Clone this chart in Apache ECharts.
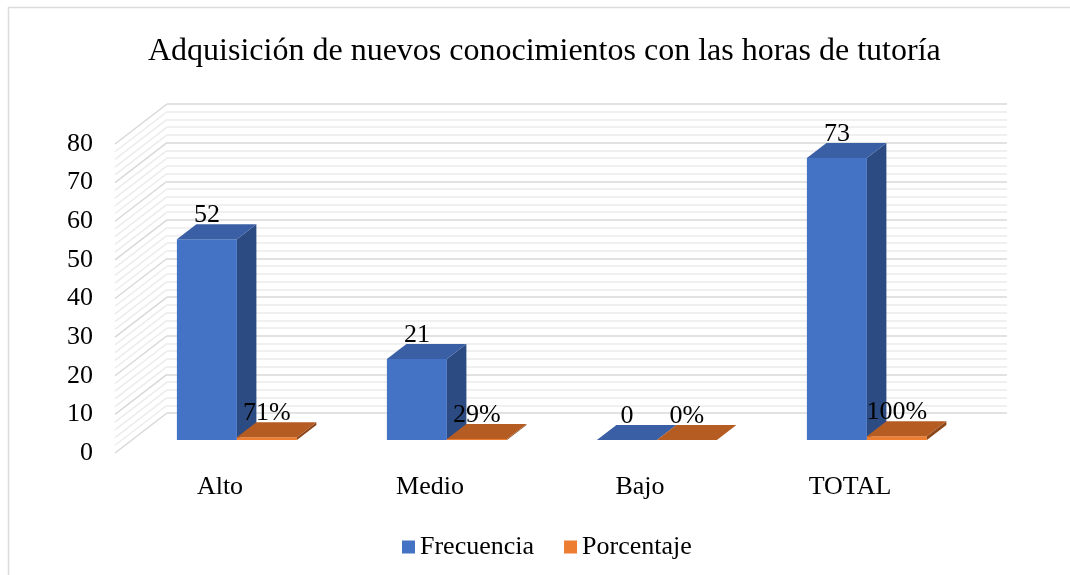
<!DOCTYPE html>
<html><head><meta charset="utf-8">
<script src="https://cdn.jsdelivr.net/npm/echarts@6/dist/echarts.min.js"></script>
<style>html,body{margin:0;padding:0;background:#fff}#c{width:1070px;height:575px}</style>
</head><body><div id="c"></div>
<script>
const chartTitle = 'Adquisición de nuevos conocimientos con las horas de tutoría';
const categories = ['Alto', 'Medio', 'Bajo', 'TOTAL'];
const frecuencia = [52, 21, 0, 73];
const porcentaje = [0.71, 0.29, 0, 1.00];
const yTicks = [0, 10, 20, 30, 40, 50, 60, 70, 80];
const seriesNames = ['Frecuencia', 'Porcentaje'];

const FONT = "'Liberation Serif','Times New Roman',serif";
const FRONT = {left: 115, right: 115, top: 144, bottom: 122};
const BACK = {left: 167, right: 63, top: 104, bottom: 162};
const DX = BACK.left - FRONT.left, DY = BACK.top - FRONT.top;
const BAR_F0 = 0.325, BAR_F1 = 0.7;
const PAL = [
  {front: '#4472C4', top: '#3A5FA5', side: '#2C4B82'},
  {front: '#ED7D31', top: '#B45C22', side: '#8C4619'}
];
const Y_MAX = yTicks[yTicks.length - 1];
const MINOR_SPLIT = 5;

function barRender(slot, pal, fmt) {
  return function (params, api) {
    const idx = api.value(0), v = api.value(1);
    const base = api.coord([idx, 0]);
    const topP = api.coord([idx, v]);
    const band = api.size([1, 0])[0];
    const w = band * 2 / 7;
    const ox = DX * BAR_F0, oy = DY * BAR_F0;
    const dx = DX * (BAR_F1 - BAR_F0), dy = DY * (BAR_F1 - BAR_F0);
    const x0 = base[0] + ox + (slot === 0 ? -w : 0);
    const x1 = x0 + w;
    const yb = base[1] + oy, yt = topP[1] + oy;
    const children = [];
    if (yb - yt > 0.01) {
      children.push({type: 'polygon', shape: {points: [[x1, yb], [x1 + dx, yb + dy], [x1 + dx, yt + dy], [x1, yt]]}, style: {fill: pal.side}});
      children.push({type: 'rect', shape: {x: x0, y: yt, width: w, height: yb - yt}, style: {fill: pal.front}});
    }
    children.push({type: 'polygon', shape: {points: [[x0, yt], [x1, yt], [x1 + dx, yt + dy], [x0 + dx, yt + dy]]}, style: {fill: pal.top}});
    children.push({type: 'text', style: {text: fmt(v), x: x0 + w / 2, y: yt + dy - 9,
      align: 'center', textAlign: 'center', verticalAlign: 'middle', textVerticalAlign: 'middle',
      font: '26px ' + FONT, fill: '#000'}});
    return {type: 'group', children: children};
  };
}

function sideRender(params, api) {
  const cs = params.coordSys;
  const v = api.value(1);
  const x0 = cs.x;
  const children = [];
  if (v < Y_MAX) {
    const step = (yTicks[1] - yTicks[0]) / MINOR_SPLIT;
    for (let k = 1; k < MINOR_SPLIT; k++) {
      const ym = api.coord([0, v + k * step])[1];
      children.push({type: 'line', shape: {x1: x0, y1: ym, x2: x0 + DX, y2: ym + DY}, style: {stroke: '#ececec', lineWidth: 1.5}});
    }
  }
  const y = api.coord([0, v])[1];
  children.push({type: 'line', shape: {x1: x0, y1: y, x2: x0 + DX, y2: y + DY}, style: {stroke: '#d9d9d9', lineWidth: 1.5}});
  return {type: 'group', children: children};
}

const chart = echarts.init(document.getElementById('c'), null, {renderer: 'canvas'});
chart.setOption({
  animation: false,
  backgroundColor: '#fff',
  title: {
    text: chartTitle, left: 143, top: 31, padding: 5,
    textStyle: {fontFamily: FONT, fontSize: 32, fontWeight: 'normal', color: '#000'}
  },
  graphic: [{type: 'rect', silent: true, shape: {x: 8.5, y: 7.5, width: 1100, height: 600}, style: {fill: 'none', stroke: '#dcdcdc', lineWidth: 1.5}}],
  legend: {
    data: seriesNames, left: 397, top: 529, icon: 'rect', itemWidth: 13, itemHeight: 13, itemGap: 30,
    textStyle: {fontFamily: FONT, fontSize: 26, color: '#000'}
  },
  grid: [
    Object.assign({containLabel: false}, FRONT),
    Object.assign({containLabel: false}, BACK)
  ],
  xAxis: [
    {type: 'category', gridIndex: 0, data: categories, axisLine: {show: false}, axisTick: {show: false},
     axisLabel: {fontFamily: FONT, fontSize: 26, color: '#000', margin: 21}},
    {type: 'category', gridIndex: 1, data: categories, show: false}
  ],
  yAxis: [
    {type: 'value', gridIndex: 0, min: 0, max: Y_MAX, interval: yTicks[1] - yTicks[0],
     axisLine: {show: false}, axisTick: {show: false}, splitLine: {show: false},
     axisLabel: {fontFamily: FONT, fontSize: 26, color: '#000', margin: 22}},
    {type: 'value', gridIndex: 1, min: 0, max: Y_MAX, interval: yTicks[1] - yTicks[0],
     axisLine: {show: false}, axisTick: {show: false}, axisLabel: {show: false},
     splitLine: {show: true, lineStyle: {color: '#d9d9d9', width: 1.5}},
     minorTick: {show: false, splitNumber: MINOR_SPLIT},
     minorSplitLine: {show: true, lineStyle: {color: '#ececec', width: 1.5}}}
  ],
  series: [
    {type: 'custom', name: 'side', xAxisIndex: 0, yAxisIndex: 0, silent: true,
     data: yTicks.map(v => [0, v]), renderItem: sideRender},
    {type: 'custom', name: seriesNames[0], xAxisIndex: 0, yAxisIndex: 0,
     itemStyle: {color: PAL[0].front},
     data: categories.map((c, i) => [i, frecuencia[i]]),
     renderItem: barRender(0, PAL[0], v => String(v))},
    {type: 'custom', name: seriesNames[1], xAxisIndex: 0, yAxisIndex: 0,
     itemStyle: {color: PAL[1].front},
     data: categories.map((c, i) => [i, porcentaje[i]]),
     renderItem: barRender(1, PAL[1], v => Math.round(v * 100) + '%')}
  ]
});
</script>
</body></html>
